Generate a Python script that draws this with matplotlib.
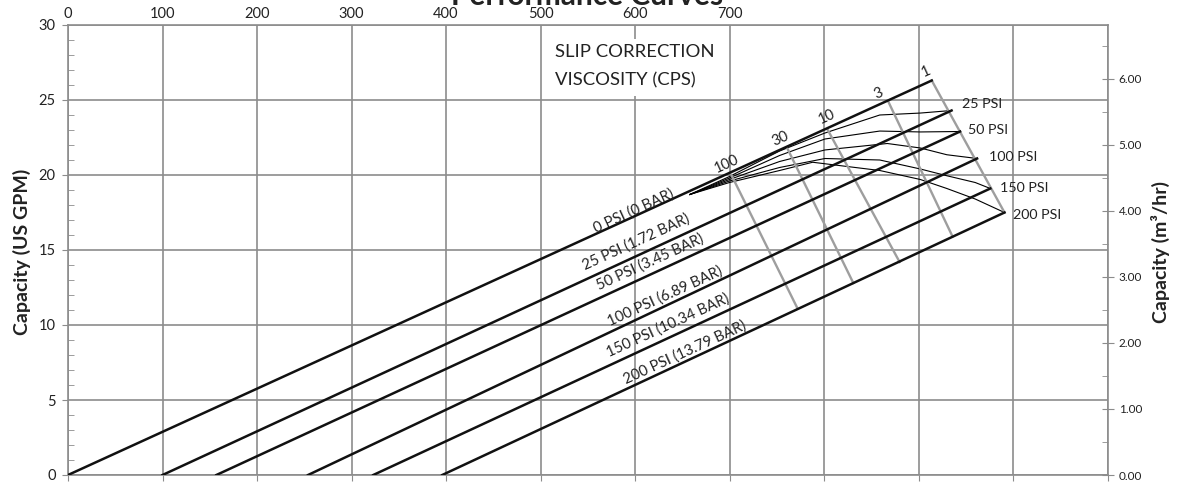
import math
import matplotlib
matplotlib.use("Agg")
import matplotlib.pyplot as plt
from matplotlib.patches import Rectangle

plt.rcParams["font.family"] = ["Lato", "DejaVu Sans"]

# pressure lines (x = speed, y = capacity in US GPM)
pressure_labels = ["0 PSI (0 BAR)", "25 PSI (1.72 BAR)", "50 PSI (3.45 BAR)",
                   "100 PSI (6.89 BAR)", "150 PSI (10.34 BAR)", "200 PSI (13.79 BAR)"]
line_start_x = [0, 100, 157, 254, 323, 396]
line_end_x = [914, 935, 944, 962, 976, 991]
line_end_y = [26.3, 24.3, 22.9, 21.1, 19.1, 17.5]
label_x = [599, 601, 616, 632, 635, 653]
label_y = [17.6, 15.5, 14.2, 11.9, 10.0, 8.2]

# end labels at the right
end_labels = ["25 PSI", "50 PSI", "100 PSI", "150 PSI", "200 PSI"]
end_label_x = [946, 952, 975, 986, 1000]
end_label_y = [24.7, 23.0, 21.2, 19.1, 17.3]

# slip correction (viscosity) lines
visc_labels = ["100", "30", "10", "3", "1"]
visc_top_x = [702, 761, 804, 868, 914]
visc_top_y = [20.0, 21.8, 23.0, 24.9, 26.3]
visc_bot_x = [772, 831, 880, 936, 991]
visc_bot_y = [11.1, 12.8, 14.2, 15.9, 17.5]
visc_label_x = [697, 754, 803, 858, 908]
visc_label_y = [20.7, 22.4, 23.9, 25.4, 26.9]

# thin curves fanning out to each pressure end point
curve_x = [
    [658, 700, 753, 801, 859, 902, 935],
    [658, 700, 753, 801, 859, 902, 944],
    [658, 700, 753, 801, 867, 902, 930, 962],
    [658, 700, 753, 801, 859, 902, 930, 960, 976],
    [658, 700, 753, 788, 859, 902, 930, 960, 991],
]
curve_y = [
    [18.7, 19.9, 21.6, 22.8, 24.0, 24.13, 24.3],
    [18.7, 19.8, 21.3, 22.4, 22.93, 22.87, 22.9],
    [18.7, 19.7, 20.9, 21.67, 22.1, 21.8, 21.35, 21.1],
    [18.7, 19.6, 20.5, 21.1, 21.0, 20.4, 19.95, 19.5, 19.1],
    [18.7, 19.5, 20.3, 20.85, 20.3, 19.7, 19.1, 18.4, 17.5],
]

top_ticks = list(range(0, 1101, 100))
top_tick_labels = [str(t) if t <= 700 else "" for t in top_ticks]
gpm_per_m3hr = 4.403

grid_c = "#8c8c8c"
text_c = "#222222"

fig = plt.figure(figsize=(11.85, 4.87), dpi=100)
ax = fig.add_axes([68 / 1185, 12 / 487, 1039.5 / 1185, 450 / 487])
ax.set_xlim(0, 1100)
ax.set_ylim(0, 30)

ax.set_xticks(top_ticks)
ax.set_yticks(range(0, 31, 5))
ax.set_yticks(range(0, 31, 1), minor=True)
ax.grid(True, which="major", color=grid_c, lw=1.2)
ax.set_axisbelow(True)
ax.tick_params(axis="x", bottom=True, labelbottom=False, direction="out",
               length=4, color=grid_c)
ax.tick_params(axis="y", which="major", direction="out", length=4, color=grid_c,
               labelsize=10.5, labelcolor=text_c, pad=5)
ax.tick_params(axis="y", which="minor", direction="in", length=4, color=grid_c)
for s in ax.spines.values():
    s.set_color(grid_c)
    s.set_linewidth(1.2)

top = ax.secondary_xaxis("top")
top.set_xticks(top_ticks)
top.set_xticklabels(top_tick_labels)
top.tick_params(length=0, labelsize=10.5, labelcolor=text_c, pad=3)
top.spines["top"].set_visible(False)

ax2 = ax.twinx()
ax2.set_ylim(0, 30 / gpm_per_m3hr)
ax2.set_yticks(range(0, 7))
ax2.set_yticklabels([f"{v:.2f}" for v in range(0, 7)])
ax2.set_yticks([v + 0.5 for v in range(0, 7)], minor=True)
ax2.tick_params(axis="y", which="major", direction="inout", length=8, color=grid_c,
                labelsize=8.5, labelcolor=text_c, pad=4)
ax2.tick_params(axis="y", which="minor", direction="in", length=4, color=grid_c)
for s in ax2.spines.values():
    s.set_visible(False)

# angle of the lines on screen
p0 = ax.transData.transform((0, 0))
p1 = ax.transData.transform((line_end_x[0], line_end_y[0]))
ang = math.degrees(math.atan2(p1[1] - p0[1], p1[0] - p0[0]))

for cx, cy in zip(curve_x, curve_y):
    ax.plot(cx, cy, color="black", lw=0.8, zorder=2)

for i in range(len(visc_labels)):
    ax.plot([visc_top_x[i], visc_bot_x[i]], [visc_top_y[i], visc_bot_y[i]],
            color="#9e9e9e", lw=1.7, zorder=2)
    ax.text(visc_label_x[i], visc_label_y[i], visc_labels[i], rotation=ang,
            rotation_mode="anchor", ha="center", va="center", fontsize=10.5,
            color=text_c)

for i in range(len(pressure_labels)):
    ax.plot([line_start_x[i], line_end_x[i]], [0, line_end_y[i]],
            color="#111111", lw=1.8, zorder=3)
    ax.text(label_x[i], label_y[i], pressure_labels[i], rotation=ang,
            rotation_mode="anchor", ha="center", va="center", fontsize=10.7,
            color=text_c)

for i in range(len(end_labels)):
    ax.text(end_label_x[i], end_label_y[i], end_labels[i], ha="left", va="center",
            fontsize=10.3, color=text_c)

ax.add_patch(Rectangle((505, 25.25), 190, 3.8, facecolor="white",
                       edgecolor="none", zorder=1))
ax.text(515, 28.2, "SLIP CORRECTION", ha="left", va="center", fontsize=13.3,
        color=text_c)
ax.text(515, 26.3, "VISCOSITY (CPS)", ha="left", va="center", fontsize=13.3,
        color=text_c)

fig.text(22 / 1185, 1 - 252 / 487, "Capacity (US GPM)", rotation=90, ha="center",
         va="center", fontsize=14, fontweight="bold", color=text_c)
fig.text(1160 / 1185, 1 - 252 / 487, "Capacity (m³/hr)", rotation=90, ha="center",
         va="center", fontsize=14, fontweight="bold", color=text_c)
fig.text(587 / 1185, 1 - 5 / 487, "Performance Curves", ha="center",
         va="baseline", fontsize=21.5, fontweight="bold", color=text_c)

fig.savefig("out.png", dpi=100)
